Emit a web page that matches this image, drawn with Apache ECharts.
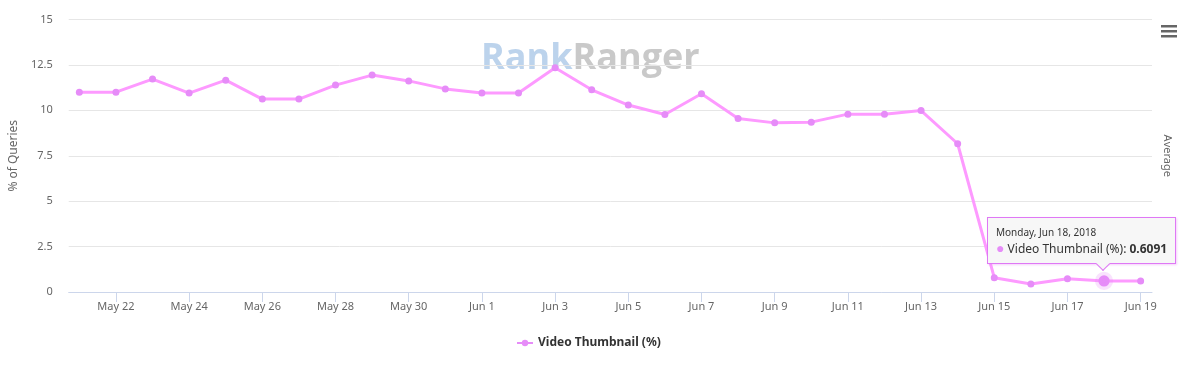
<!DOCTYPE html>
<html>
<head>
<meta charset="utf-8">
<script src="https://cdn.jsdelivr.net/npm/echarts@6/dist/echarts.min.js"></script>
<style>
  html, body { margin: 0; padding: 0; background: #fff; }
  #chart { width: 1200px; height: 372px; }
  div.rr-tip::after {
    content: ''; position: absolute; left: 110px; bottom: -6px;
    width: 9px; height: 9px; background: rgb(247,247,247);
    border-right: 1px solid #df78f5; border-bottom: 1px solid #df78f5;
    transform: rotate(45deg);
  }
</style>
</head>
<body>
<div id="chart"></div>
<script>
const YEAR = 2018;
const categories = ['May 21','May 22','May 23','May 24','May 25','May 26','May 27','May 28','May 29','May 30','May 31',
  'Jun 1','Jun 2','Jun 3','Jun 4','Jun 5','Jun 6','Jun 7','Jun 8','Jun 9','Jun 10','Jun 11','Jun 12','Jun 13','Jun 14',
  'Jun 15','Jun 16','Jun 17','Jun 18','Jun 19'];
const videoThumbnail = [11.0, 11.0, 11.72, 10.95, 11.66, 10.62, 10.62, 11.39, 11.94, 11.62, 11.18,
  10.95, 10.95, 12.34, 11.13, 10.29, 9.77, 10.91, 9.55, 9.31, 9.35, 9.79, 9.79, 9.99, 8.16,
  0.79, 0.44, 0.73, 0.6091, 0.61];
const seriesName = 'Video Thumbnail (%)';
const tipIndex = 28;

const labelIdx = categories.map((c, i) => i).filter(i => i % 2 === 1);
const lineColor = '#e68cf8';
const FONT = 'Noto Sans';
const monthNum = { May: 4, Jun: 5 };
const dayNames = ['Sunday','Monday','Tuesday','Wednesday','Thursday','Friday','Saturday'];
function fullDate(i) {
  const [m, d] = categories[i].split(' ');
  const dt = new Date(YEAR, monthNum[m], +d);
  return dayNames[dt.getDay()] + ', ' + m + ' ' + d + ', ' + YEAR;
}

const chart = echarts.init(document.getElementById('chart'), null, { renderer: 'canvas' });
chart.setOption({
  animation: false,
  textStyle: { fontFamily: FONT },
  grid: { left: 66, right: 48, top: 19.5, bottom: 80, containLabel: false },
  xAxis: {
    type: 'value', min: -0.29, max: categories.length - 1 + 0.31,
    splitLine: { show: false },
    axisLine: { show: true, lineStyle: { color: '#ccd6eb', width: 1 } },
    axisTick: { show: true, length: 10, lineStyle: { color: '#ccd6eb' }, customValues: labelIdx },
    axisLabel: {
      color: '#666', fontSize: 11, fontFamily: FONT, margin: 9, customValues: labelIdx,
      formatter: v => (Number.isInteger(v) && categories[v] !== undefined) ? categories[v] : ''
    }
  },
  yAxis: [{
    type: 'value', min: 0, max: 15, interval: 2.5,
    name: '% of Queries', nameLocation: 'middle', nameGap: 48,
    nameTextStyle: { color: '#666', fontSize: 12, fontFamily: FONT },
    axisLine: { show: false }, axisTick: { show: false },
    axisLabel: { color: '#666', fontSize: 11, fontFamily: FONT, margin: 16,
      formatter: v => String(v) },
    splitLine: { lineStyle: { color: '#e6e6e6' } }
  }, {
    type: 'value', min: 0, max: 15, interval: 2.5, position: 'right',
    name: 'Average', nameLocation: 'middle', nameGap: 10, nameRotate: -90,
    nameTextStyle: { color: '#666', fontSize: 11, fontFamily: FONT },
    axisLine: { show: false }, axisTick: { show: false }, axisLabel: { show: false },
    splitLine: { show: false }
  }],
  legend: {
    left: 511, top: 332, itemWidth: 16, itemHeight: 8, itemGap: 10,
    textStyle: { color: '#333', fontWeight: 'bold', fontSize: 12, fontFamily: FONT },
    data: [seriesName]
  },
  tooltip: {
    trigger: 'item', triggerOn: 'none', alwaysShowContent: true, transitionDuration: 0,
    className: 'rr-tip',
    backgroundColor: 'rgb(247,247,247)', borderColor: '#df78f5', borderWidth: 1,
    padding: [6, 8, 6, 8],
    extraCssText: 'border: 1px solid #df78f5 !important; box-shadow: 1px 1px 2px rgba(223,120,245,0.35); border-radius: 0; overflow: visible;',
    position: () => [987, 217],
    formatter: p => {
      const i = p.data[0];
      return '<div style="font-family:\'Noto Sans\';color:#333;line-height:1.2">' +
        '<div style="font-size:10px;margin-top:2px">' + fullDate(i) + '</div>' +
        '<div style="font-size:12px;margin-top:2px;white-space:nowrap"><span style="color:' + lineColor + ';font-size:14px">\u25CF</span> ' +
        p.seriesName + ': <b>' + p.data[1] + '</b></div></div>';
    }
  },
  series: [{
    name: seriesName, type: 'line',
    data: videoThumbnail.map((v, i) => [i, v]),
    symbol: 'circle', symbolSize: 7, showSymbol: true,
    lineStyle: { color: lineColor, width: 3 },
    itemStyle: { color: lineColor },
    emphasis: { scale: 1.6, itemStyle: { color: lineColor, borderColor: 'rgba(230,140,248,0.25)', borderWidth: 7 } }
  }],
  graphic: [
    { type: 'text', left: 481, top: 41, style: {
        text: '{a|Rank}{b|Ranger}',
        rich: {
          a: { fontSize: 36, fontWeight: 'bold', fontFamily: 'Open Sans', fill: '#bcd3ec' },
          b: { fontSize: 36, fontWeight: 'bold', fontFamily: 'Open Sans', fill: '#c9c9c9' }
        } } },
    { type: 'rect', shape: { x: 1161, y: 25, width: 16, height: 2.5 }, style: { fill: '#666' } },
    { type: 'rect', shape: { x: 1161, y: 30, width: 16, height: 2.5 }, style: { fill: '#666' } },
    { type: 'rect', shape: { x: 1161, y: 35, width: 16, height: 2.5 }, style: { fill: '#666' } }
  ]
});
chart.dispatchAction({ type: 'highlight', seriesIndex: 0, dataIndex: tipIndex });
chart.dispatchAction({ type: 'showTip', seriesIndex: 0, dataIndex: tipIndex });
</script>
</body>
</html>
